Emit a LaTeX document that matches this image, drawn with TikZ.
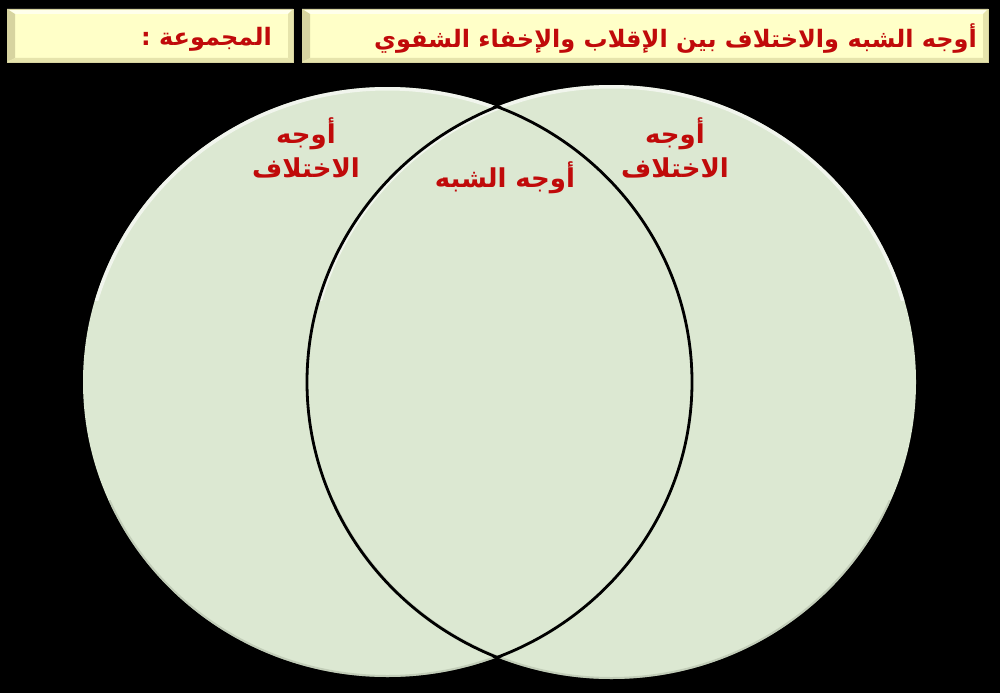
\documentclass[tikz,border=0pt]{standalone}
\usepackage{fontspec}
\TeXXeTstate=1
\newfontfamily\arabicfont[Script=Arabic]{DejaVu Sans}
\definecolor{bargold}{RGB}{255,255,200}
\definecolor{bardark}{RGB}{215,212,160}
\definecolor{barlight}{RGB}{255,255,235}
\definecolor{barmid}{RGB}{230,228,172}
\definecolor{vennfill}{RGB}{220,232,210}
\definecolor{rimdark}{RGB}{170,180,160}
\definecolor{txtred}{RGB}{192,10,10}
\tikzset{
  lbl/.style={text=txtred, font=\arabicfont\bfseries\fontsize{26}{32}\selectfont, inner sep=0pt, align=center},
  ttl/.style={text=txtred, font=\arabicfont\bfseries\fontsize{24}{30}\selectfont, inner sep=0pt},
  outline/.style={draw=black, line width=2.8pt},
}
\newcommand{\bevelbar}[4]{%
  \fill[bargold] (#1,#2) rectangle (#3,#4);
  \fill[barlight] (#1,#2) -- (#3,#2) -- ([xshift=-5pt,yshift=-5pt]#3,#2) -- ([xshift=8pt,yshift=-5pt]#1,#2) -- cycle;
  \fill[bardark] (#1,#2) -- ([xshift=8pt,yshift=-5pt]#1,#2) -- ([xshift=8pt,yshift=4pt]#1,#4) -- (#1,#4) -- cycle;
  \fill[barmid] (#1,#4) -- (#3,#4) -- ([xshift=-5pt,yshift=4pt]#3,#4) -- ([xshift=8pt,yshift=4pt]#1,#4) -- cycle;
  \fill[barmid] (#3,#2) -- (#3,#4) -- ([xshift=-5pt,yshift=4pt]#3,#4) -- ([xshift=-5pt,yshift=-5pt]#3,#2) -- cycle;
  \draw[bardark, line width=0.8pt] (#1,#2) rectangle (#3,#4);
}
\begin{document}
\begin{tikzpicture}[x=1pt,y=-1pt]
\fill[black] (0,0) rectangle (1000,693);
\useasboundingbox (0,0) rectangle (1000,693);
% header bars
\bevelbar{7}{9}{293}{62}
\bevelbar{302}{9}{988}{62}
\node[ttl, anchor=east] (title) at (977,39) {\beginR أوجه الشبه والاختلاف بين الإقلاب والإخفاء الشفوي\endR};
\node[ttl, anchor=east] (group) at (272,39) {\beginR المجموعة :\endR};
% Venn circles
\coordinate (cl) at (387.5,382);
\coordinate (cr) at (611.5,382);
\fill[vennfill] (cl) ellipse [x radius=304.5, y radius=295];
\begin{scope}
  \clip (cl) ellipse [x radius=304.5, y radius=295];
  \begin{scope}
    \clip (0,0) rectangle (1000,300);
    \draw[white, opacity=0.6, line width=7pt] (cl) ellipse [x radius=304.5, y radius=295];
  \end{scope}
  \begin{scope}
    \clip (0,500) rectangle (1000,693);
    \draw[rimdark, opacity=0.5, line width=4pt] (cl) ellipse [x radius=304.5, y radius=295];
  \end{scope}
\end{scope}
\fill[vennfill] (cr) ellipse [x radius=304.5, y radius=297];
\begin{scope}
  \clip (cr) ellipse [x radius=304.5, y radius=297];
  \begin{scope}
    \clip (0,0) rectangle (1000,300);
    \draw[white, opacity=0.6, line width=7pt] (cr) ellipse [x radius=304.5, y radius=297];
  \end{scope}
  \begin{scope}
    \clip (0,500) rectangle (1000,693);
    \draw[rimdark, opacity=0.5, line width=4pt] (cr) ellipse [x radius=304.5, y radius=297];
  \end{scope}
\end{scope}
\begin{scope}
  \clip (cl) ellipse [x radius=306, y radius=297];
  \draw[outline] (cr) ellipse [x radius=304.5, y radius=297];
\end{scope}
\begin{scope}
  \clip (cr) ellipse [x radius=306, y radius=299];
  \draw[outline] (cl) ellipse [x radius=304.5, y radius=295];
\end{scope}
% labels
\node[lbl] (diffL) at (306,148) {\beginR أوجه\endR\\[2pt]\beginR الاختلاف\endR};
\node[lbl] (diffR) at (675,148) {\beginR أوجه\endR\\[2pt]\beginR الاختلاف\endR};
\node[lbl] (same) at (505,178) {\beginR أوجه الشبه\endR};
\end{tikzpicture}
\end{document}
